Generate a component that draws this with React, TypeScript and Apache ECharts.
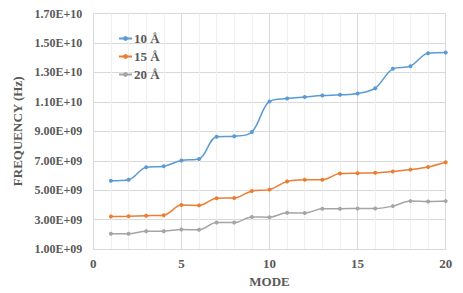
import React, { useEffect, useRef } from "react";
import * as echarts from "echarts";

const modes = [1, 2, 3, 4, 5, 6, 7, 8, 9, 10, 11, 12, 13, 14, 15, 16, 17, 18, 19, 20];
const seriesNames = ["10 Å", "15 Å", "20 Å"];
const freq10 = [5.64e9, 5.71e9, 6.56e9, 6.63e9, 7.02e9, 7.12e9, 8.64e9, 8.67e9, 8.96e9, 1.103e10, 1.123e10, 1.133e10, 1.143e10, 1.148e10, 1.157e10, 1.193e10, 1.325e10, 1.343e10, 1.43e10, 1.435e10];
const freq15 = [3.21e9, 3.23e9, 3.27e9, 3.3e9, 3.99e9, 3.97e9, 4.46e9, 4.47e9, 4.95e9, 5.04e9, 5.6e9, 5.71e9, 5.71e9, 6.13e9, 6.16e9, 6.18e9, 6.27e9, 6.4e9, 6.58e9, 6.9e9];
const freq20 = [2.04e9, 2.04e9, 2.22e9, 2.22e9, 2.33e9, 2.31e9, 2.8e9, 2.8e9, 3.18e9, 3.17e9, 3.47e9, 3.45e9, 3.74e9, 3.74e9, 3.76e9, 3.76e9, 3.92e9, 4.26e9, 4.23e9, 4.26e9];
const colors = ["#5B9BD5", "#ED7D31", "#A5A5A5"];

function fmtExp(v: number): string {
  const parts = v.toExponential(2).split("e");
  const n = parseInt(parts[1], 10);
  return parts[0] + "E" + (n < 0 ? "-" : "+") + String(Math.abs(n)).padStart(2, "0");
}

export default function App() {
  const ref = useRef<HTMLDivElement>(null);
  useEffect(() => {
    if (!ref.current) return;
    const chart = echarts.init(ref.current, undefined, { renderer: "svg" });
    const font = "Liberation Serif";
    const txt = { fontFamily: font, fontWeight: "bold" as const, fontSize: 12, color: "#595959" };
    const nameTxt = { ...txt, fontSize: 13 };
    const all = [freq10, freq15, freq20];
    chart.setOption({
      animation: false,
      backgroundColor: "#ffffff",
      grid: { left: 93.3, right: 17.3, top: 13.6, bottom: 40.8 },
      legend: {
        orient: "vertical",
        left: 113,
        top: 27,
        padding: 5,
        itemWidth: 13,
        itemHeight: 6,
        itemGap: 5,
        textStyle: { ...txt, fontSize: 13, lineHeight: 12, padding: [0, 0, 0, -3] },
        data: seriesNames,
      },
      xAxis: {
        type: "value",
        min: 0,
        max: 20,
        interval: 5,
        name: "MODE",
        nameLocation: "middle",
        nameGap: 24,
        nameTextStyle: nameTxt,
        axisLine: { show: true, lineStyle: { color: "#D9D9D9" } },
        axisTick: { show: false },
        axisLabel: { ...txt, fontSize: 13, margin: 8 },
        splitLine: { show: true, lineStyle: { color: "#D9D9D9", width: 1 } },
        minorTick: { show: false, splitNumber: 5 },
        minorSplitLine: { show: true, lineStyle: { color: "#F0F0F0", width: 1 } },
      },
      yAxis: {
        type: "value",
        min: 1e9,
        max: 1.7e10,
        interval: 2e9,
        name: "FREQUENCY (Hz)",
        nameLocation: "middle",
        nameGap: 66,
        nameTextStyle: nameTxt,
        axisLine: { show: false },
        axisTick: { show: false },
        axisLabel: { ...txt, margin: 11, formatter: (v: number) => fmtExp(v) },
        splitLine: { show: true, lineStyle: { color: "#D9D9D9", width: 1 } },
      },
      series: seriesNames.map((name, i) => ({
        name,
        type: "line",
        smooth: 0.35,
        data: modes.map((m, j) => [m, all[i][j]]),
        symbol: "circle",
        symbolSize: 4,
        lineStyle: { color: colors[i], width: 1.5 },
        itemStyle: { color: colors[i] },
      })),
    });
    return () => chart.dispose();
  }, []);
  return <div ref={ref} style={{ position: "fixed", left: 0, top: 0, width: 463, height: 293 }} />;
}
